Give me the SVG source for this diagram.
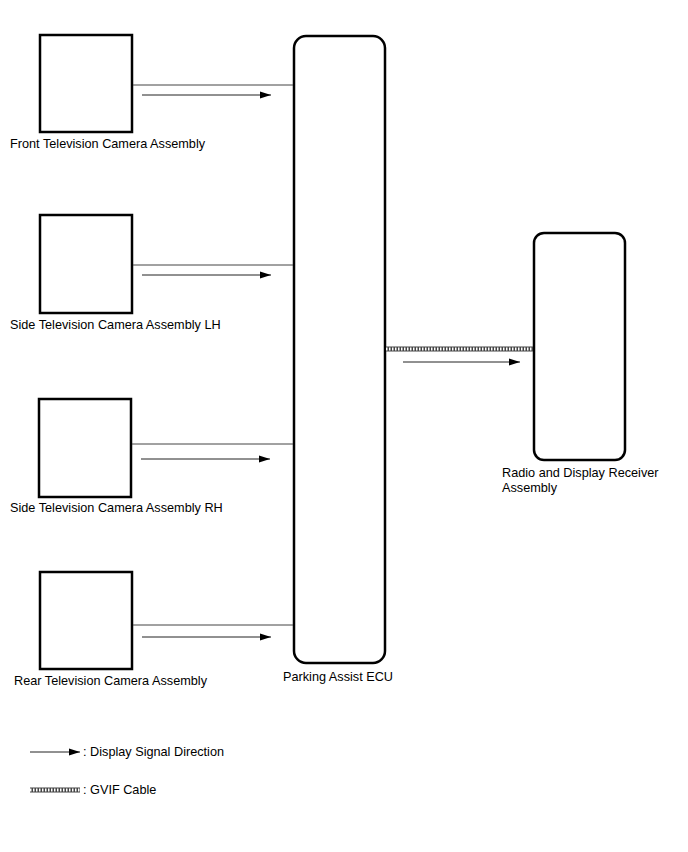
<svg xmlns="http://www.w3.org/2000/svg" width="688" height="852" viewBox="0 0 688 852">
<style>
.box{fill:#fff;stroke:#000;stroke-width:2.5}
.ecu{fill:#fff;stroke:#000;stroke-width:2.5}
.wire{stroke:#444;stroke-width:1;fill:none}
.arr{stroke:#222;stroke-width:1;fill:none;marker-end:url(#ah)}
.cab{stroke:#444;stroke-width:5;fill:none}
.cabin{stroke:#fff;stroke-width:3;stroke-dasharray:1.5 1.5;fill:none}
text{font-family:"Liberation Sans",Arial,sans-serif;font-size:12.7px;fill:#000}
</style>
<defs>
<marker id="ah" markerWidth="12" markerHeight="8" refX="11" refY="4" orient="auto" markerUnits="userSpaceOnUse">
<path d="M0,0.5 L11,4 L0,7.5 Z" fill="#000"/>
</marker>
</defs>
<rect width="688" height="852" fill="#fff"/>
<g id="front-camera"><rect class="box" x="40" y="35" width="92" height="97"/><text x="10" y="148">Front Television Camera Assembly</text></g>
<g id="side-camera-lh"><rect class="box" x="40" y="215" width="92" height="98"/><text x="10" y="329">Side Television Camera Assembly LH</text></g>
<g id="side-camera-rh"><rect class="box" x="39" y="399" width="92" height="98"/><text x="10" y="512">Side Television Camera Assembly RH</text></g>
<g id="rear-camera"><rect class="box" x="40" y="572" width="92" height="97"/><text x="14" y="685">Rear Television Camera Assembly</text></g>
<g id="parking-assist-ecu"><rect class="ecu" x="294" y="36" width="91" height="627" rx="12"/><text x="283" y="681">Parking Assist ECU</text></g>
<g id="radio-display"><rect class="ecu" x="534" y="233" width="91" height="227" rx="10"/><text x="502" y="477">Radio and Display Receiver</text><text x="502" y="492">Assembly</text></g>
<g id="connectors">
<line class="wire" x1="133" y1="85" x2="293" y2="85"/>
<line class="arr" x1="142" y1="95" x2="271" y2="95"/>
<line class="wire" x1="133" y1="265" x2="293" y2="265"/>
<line class="arr" x1="142" y1="275" x2="271" y2="275"/>
<line class="wire" x1="132" y1="444" x2="293" y2="444"/>
<line class="arr" x1="141" y1="459" x2="270" y2="459"/>
<line class="wire" x1="133" y1="625" x2="293" y2="625"/>
<line class="arr" x1="142" y1="637" x2="271" y2="637"/>
<line class="cab" x1="386" y1="349" x2="533" y2="349"/>
<line class="cabin" x1="386" y1="349" x2="533" y2="349"/>
<line class="arr" x1="403" y1="362" x2="520" y2="362"/>
</g>
<g id="legend">
<line class="arr" x1="30" y1="752" x2="80" y2="752"/>
<text x="83" y="756">: Display Signal Direction</text>
<line class="cab" x1="30" y1="790" x2="80" y2="790"/>
<line class="cabin" x1="30" y1="790" x2="80" y2="790"/>
<text x="83" y="794">: GVIF Cable</text>
</g>
</svg>
